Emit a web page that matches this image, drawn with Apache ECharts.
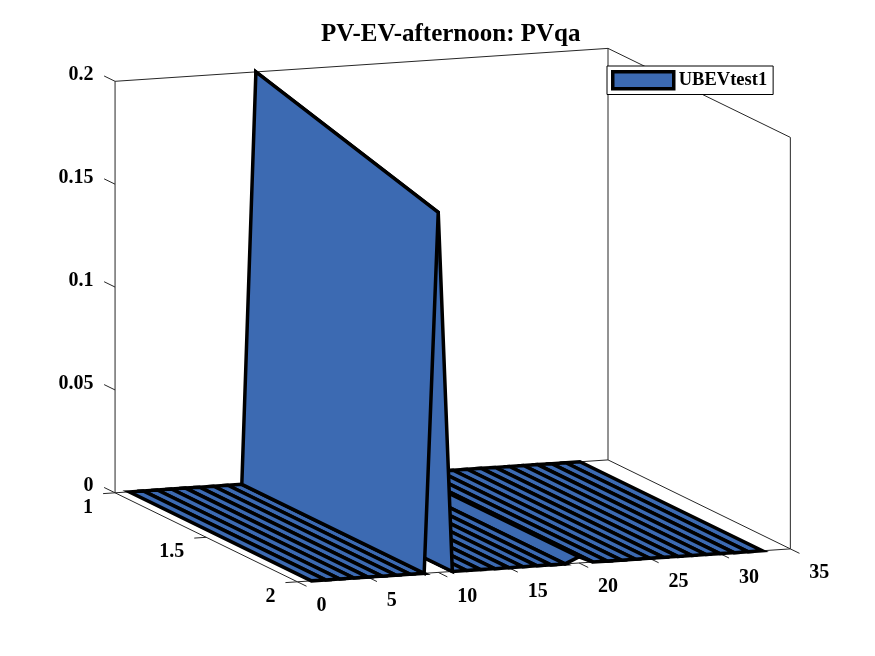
<!DOCTYPE html>
<html>
<head>
<meta charset="utf-8">
<title>PV-EV-afternoon: PVqa</title>
<script src="https://cdn.jsdelivr.net/npm/echarts@6/dist/echarts.min.js"></script>
<style>
  html, body { margin: 0; padding: 0; background: #fff; }
  #main { width: 875px; height: 656px; }
</style>
</head>
<body>
<div id="main"></div>
<script>
// data: surface with two rows (y = 1, y = 2) and 33 columns
var xCols = [1,2,3,4,5,6,7,8,9,10,11,12,13,14,15,16,17,18,19,20,21,22,23,24,25,26,27,28,29,30,31,32,33];
var yRows = [1, 2];
var zAtY1 = [0,0,0,0,0,0,0,0,0,0.2,0,0,0,0,0,0,0,0,0,0.003,0,0,0,0,0,0,0,0,0,0,0,0,0];
var zAtY2 = [0,0,0,0,0,0,0,0,0,0.175,0,0,0,0,0,0,0,0,0,0.003,0,0,0,0,0,0,0,0,0,0,0,0,0];

var xTicks = [0, 5, 10, 15, 20, 25, 30, 35];
var yTicks = [1, 1.5, 2];
var zTicks = [0, 0.05, 0.1, 0.15, 0.2];
var zTickLabels = ['0', '0.05', '0.1', '0.15', '0.2'];

var seriesName = 'UBEVtest1';
var titleText = 'PV-EV-afternoon: PVqa';

// axis limits and view (like matlab view(az, el))
var X_LIM = [0, 35], Y_LIM = [1, 2], Z_LIM = [0, 0.2];
var VIEW_AZ = -20.3 * Math.PI / 180;
var VIEW_EL = 10.4 * Math.PI / 180;
var Z_ASPECT = 0.796;

// layout of the projection plane
var PX_PER_UNIT = 525.6;
var ORIGIN_PX = [297.4, 581.8];
var U_RANGE = [-0.45, 1.05], V_RANGE = [-0.1, 1.0];

var FACE_COLOR = '#3c6ab2';
var FONT = '"Liberation Serif", "Times New Roman", serif';

// 3d -> projection plane (y axis reversed)
function project(x, y, z) {
  var nx = (x - X_LIM[0]) / (X_LIM[1] - X_LIM[0]);
  var ny = (Y_LIM[1] - y) / (Y_LIM[1] - Y_LIM[0]);
  var nz = (z - Z_LIM[0]) / (Z_LIM[1] - Z_LIM[0]) * Z_ASPECT;
  var sa = Math.sin(VIEW_AZ), ca = Math.cos(VIEW_AZ);
  var se = Math.sin(VIEW_EL), ce = Math.cos(VIEW_EL);
  var u = nx * ca + ny * sa;
  var v = -nx * sa * se + ny * ca * se + nz * ce;
  return [u, v];
}
// distance toward the viewer
function depth(x, y, z) {
  var nx = (x - X_LIM[0]) / (X_LIM[1] - X_LIM[0]);
  var ny = (Y_LIM[1] - y) / (Y_LIM[1] - Y_LIM[0]);
  var nz = (z - Z_LIM[0]) / (Z_LIM[1] - Z_LIM[0]) * Z_ASPECT;
  var sa = Math.sin(VIEW_AZ), ca = Math.cos(VIEW_AZ);
  var se = Math.sin(VIEW_EL), ce = Math.cos(VIEW_EL);
  return nx * sa * ce - ny * ca * ce + nz * se;
}

// faces between neighbouring columns, drawn far to near
var faces = [];
for (var j = 0; j < xCols.length - 1; j++) {
  var cx = (xCols[j] + xCols[j + 1]) / 2;
  var cy = (yRows[0] + yRows[1]) / 2;
  var cz = (zAtY1[j] + zAtY1[j + 1] + zAtY2[j] + zAtY2[j + 1]) / 4;
  faces.push({ j: j, d: depth(cx, cy, cz) });
}
faces.sort(function (a, b) { return a.d - b.d; });

var chart = echarts.init(document.getElementById('main'));

function renderFace(params, api) {
  var j = api.value(0);
  var corners = [
    [xCols[j], yRows[0], zAtY1[j]],
    [xCols[j + 1], yRows[0], zAtY1[j + 1]],
    [xCols[j + 1], yRows[1], zAtY2[j + 1]],
    [xCols[j], yRows[1], zAtY2[j]]
  ];
  var points = corners.map(function (c) { return api.coord(project(c[0], c[1], c[2])); });
  return {
    type: 'polygon',
    z2: params.dataIndex,
    shape: { points: points },
    style: { fill: FACE_COLOR, stroke: '#000', lineWidth: 3.5, lineJoin: 'miter' }
  };
}

function renderBox(params, api) {
  var kids = [];
  function pt(x, y, z) { return api.coord(project(x, y, z)); }
  function seg(a, b) {
    var p = pt(a[0], a[1], a[2]), q = pt(b[0], b[1], b[2]);
    kids.push({ type: 'line', shape: { x1: p[0], y1: p[1], x2: q[0], y2: q[1] },
      style: { stroke: '#262626', lineWidth: 1 } });
  }
  function label(text, p, dx, dy, align) {
    kids.push({ type: 'text', style: {
      text: text, x: p[0] + dx, y: p[1] + dy,
      align: align, textAlign: align, verticalAlign: 'middle', textVerticalAlign: 'middle',
      font: 'bold 20px ' + FONT, fill: '#000' } });
  }
  var x0 = X_LIM[0], x1 = X_LIM[1], y0 = Y_LIM[0], y1 = Y_LIM[1], z0 = Z_LIM[0], z1 = Z_LIM[1];
  // back planes of the box
  seg([x0, y0, z0], [x1, y0, z0]);
  seg([x1, y0, z0], [x1, y1, z0]);
  seg([x1, y1, z0], [x0, y1, z0]);
  seg([x0, y1, z0], [x0, y0, z0]);
  seg([x0, y0, z0], [x0, y0, z1]);
  seg([x0, y0, z1], [x1, y0, z1]);
  seg([x1, y0, z0], [x1, y0, z1]);
  seg([x1, y0, z1], [x1, y1, z1]);
  seg([x1, y1, z1], [x1, y1, z0]);

  // x ticks on the front edge
  xTicks.forEach(function (t) {
    seg([t, y1, z0], [t, y1 + 0.05, z0]);
    label(String(t), pt(t, y1, z0), 19, 24, 'left');
  });
  // y ticks on the left edge
  yTicks.forEach(function (t) {
    seg([x0, t, z0], [x0 - 0.85, t, z0]);
    label(String(t), pt(x0, t, z0), -22, 15, 'right');
  });
  // z ticks on the back left vertical
  zTicks.forEach(function (t, i) {
    seg([x0, y0, t], [x0, y0 - 0.06, t]);
    label(zTickLabels[i], pt(x0, y0, t), -21.5, -6.5, 'right');
  });
  return { type: 'group', children: kids };
}

var option = {
  backgroundColor: '#fff',
  animation: false,
  title: {
    text: titleText,
    left: 321,
    top: 22,
    padding: 0,
    textStyle: { fontFamily: FONT, fontWeight: 'bold', fontSize: 25, color: '#000' }
  },
  legend: {
    data: [{ name: seriesName, icon: 'rect' }],
    left: 607,
    top: 66,
    padding: [4, 6, 4, 4],
    itemWidth: 61,
    itemHeight: 17,
    itemGap: 5,
    selectedMode: false,
    backgroundColor: '#fff',
    borderColor: '#000',
    borderWidth: 1,
    itemStyle: { color: FACE_COLOR, borderColor: '#000', borderWidth: 3.5 },
    textStyle: { fontFamily: FONT, fontWeight: 'bold', fontSize: 18.5, color: '#000' }
  },
  grid: {
    left: ORIGIN_PX[0] + U_RANGE[0] * PX_PER_UNIT,
    top: ORIGIN_PX[1] - V_RANGE[1] * PX_PER_UNIT,
    width: (U_RANGE[1] - U_RANGE[0]) * PX_PER_UNIT,
    height: (V_RANGE[1] - V_RANGE[0]) * PX_PER_UNIT
  },
  xAxis: { type: 'value', min: U_RANGE[0], max: U_RANGE[1], show: false },
  yAxis: { type: 'value', min: V_RANGE[0], max: V_RANGE[1], show: false },
  series: [
    {
      name: 'box',
      type: 'custom',
      z: 1,
      silent: true,
      renderItem: renderBox,
      data: [[0]]
    },
    {
      name: seriesName,
      type: 'custom',
      z: 2,
      itemStyle: { color: FACE_COLOR },
      renderItem: renderFace,
      data: faces.map(function (f) { return [f.j]; })
    }
  ]
};

chart.setOption(option);
</script>
</body>
</html>
